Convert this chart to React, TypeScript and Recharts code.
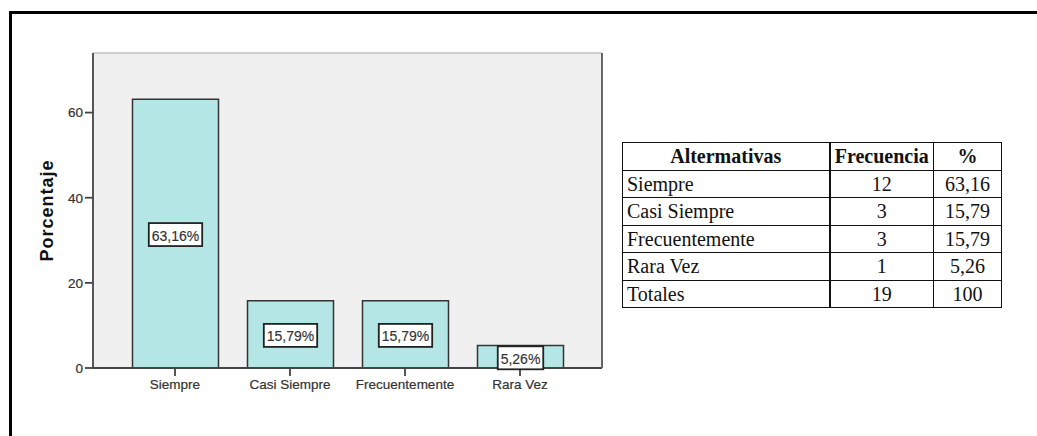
import React from 'react';
import { BarChart, Bar, XAxis, YAxis, CartesianGrid, LabelList, Label } from 'recharts';

const categories = ['Siempre', 'Casi Siempre', 'Frecuentemente', 'Rara Vez'];
const percentages = [63.16, 15.79, 15.79, 5.26];
const frequencies = [12, 3, 3, 1];
const yTicks = [0, 20, 40, 60];
const tableHeaders = ['Altermativas', 'Frecuencia', '%'];
const totalLabel = 'Totales';
const totalFrequency = 19;
const totalPercent = '100';

const data = categories.map((name, i) => ({ name, value: percentages[i] }));

const fmt = (v: number) => v.toFixed(2).replace('.', ',');

const FONT = '"Liberation Sans", Arial, sans-serif';
const SERIF = '"Liberation Serif", "Times New Roman", serif';

const renderBoxLabel = (props: any) => {
  const { x, y, width, height, value } = props;
  const text = fmt(Number(value)) + '%';
  const w = text.length * 7.9 + 6;
  const h = 23;
  const cx = Number(x) + Number(width) / 2;
  const cy = Number(y) + Number(height) / 2 + 1;
  return (
    <g>
      <rect x={cx - w / 2} y={cy - h / 2} width={w} height={h} fill="#ffffff" stroke="#222" strokeWidth={1.8} />
      <text x={cx} y={cy + 1} textAnchor="middle" dominantBaseline="central" fontSize={14} fontFamily={FONT} fill="#333" stroke="#333" strokeWidth={0.15}>
        {text}
      </text>
    </g>
  );
};

const cellBase: React.CSSProperties = {
  border: '1px solid #111',
  padding: 0,
  height: 26.5,
  lineHeight: '26px',
  fontFamily: SERIF,
  fontSize: 20,
  color: '#111',
  whiteSpace: 'nowrap',
};

const tickStyle = { fill: '#333', fontSize: 13.5, fontFamily: FONT, stroke: '#333', strokeWidth: 0.2 };

export default function App() {
  return (
    <div style={{ position: 'absolute', left: 0, top: 0, width: 1037, height: 436, overflow: 'hidden', background: '#fff' }}>
      <div
        style={{
          position: 'absolute',
          left: 9,
          top: 11,
          width: 1100,
          height: 500,
          borderLeft: '3px solid #000',
          borderTop: '3px solid #000',
        }}
      />
      <div style={{ position: 'absolute', left: 0, top: 0 }}>
        <BarChart width={620} height={436} data={data} margin={{ top: 52, right: 16, bottom: 38, left: 33 }} barSize={86}>
          <CartesianGrid fill="#f0f0f0" horizontal={false} vertical={false} stroke="none" />
          <XAxis
            dataKey="name"
            interval={0}
            height={30}
            tickSize={8}
            tickMargin={3}
            padding={{ left: 24.5, right: 24.5 }}
            axisLine={{ stroke: '#444', strokeWidth: 1.8 }}
            tickLine={{ stroke: '#444', strokeWidth: 1.8 }}
            tick={tickStyle}
          />
          <XAxis
            xAxisId="top"
            dataKey="name"
            orientation="top"
            height={1}
            tick={false}
            tickLine={false}
            axisLine={{ stroke: '#aaa', strokeWidth: 1.2 }}
          />
          <YAxis
            domain={[0, 74]}
            ticks={yTicks}
            width={60}
            tickSize={8}
            tickMargin={2}
            allowDataOverflow
            axisLine={{ stroke: '#444', strokeWidth: 1.8 }}
            tickLine={{ stroke: '#444', strokeWidth: 1.8 }}
            tick={tickStyle}
          >
            <Label
              value="Porcentaje"
              angle={-90}
              position="insideLeft"
              offset={14}
              style={{ textAnchor: 'middle', fontWeight: 'bold', fontSize: 18, letterSpacing: 1, fill: '#111', fontFamily: FONT }}
            />
          </YAxis>
          <YAxis
            yAxisId="right"
            orientation="right"
            width={2}
            domain={[0, 74]}
            tick={false}
            tickLine={false}
            axisLine={{ stroke: '#666', strokeWidth: 2 }}
          />
          <Bar dataKey="value" fill="#b4e6e6" stroke="#333" strokeWidth={1.5} isAnimationActive={false}>
            <LabelList dataKey="value" content={renderBoxLabel} />
          </Bar>
        </BarChart>
      </div>
      <table
        style={{
          position: 'absolute',
          left: 622,
          top: 142,
          borderCollapse: 'collapse',
          tableLayout: 'fixed',
          width: 379,
        }}
      >
        <colgroup>
          <col style={{ width: 207 }} />
          <col style={{ width: 104 }} />
          <col style={{ width: 68 }} />
        </colgroup>
        <tbody>
          <tr>
            {tableHeaders.map((h, i) => (
              <td
                key={h}
                style={{
                  ...cellBase,
                  fontWeight: 'bold',
                  textAlign: 'center',
                  borderRight: i === 0 ? '2px solid #111' : cellBase.border,
                }}
              >
                {h}
              </td>
            ))}
          </tr>
          {categories.map((c, i) => (
            <tr key={c}>
              <td style={{ ...cellBase, paddingLeft: 4, textAlign: 'left', borderRight: '2px solid #111' }}>{c}</td>
              <td style={{ ...cellBase, textAlign: 'center' }}>{frequencies[i]}</td>
              <td style={{ ...cellBase, textAlign: 'center' }}>{fmt(percentages[i])}</td>
            </tr>
          ))}
          <tr>
            <td style={{ ...cellBase, paddingLeft: 4, textAlign: 'left', borderRight: '2px solid #111' }}>{totalLabel}</td>
            <td style={{ ...cellBase, textAlign: 'center' }}>{totalFrequency}</td>
            <td style={{ ...cellBase, textAlign: 'center' }}>{totalPercent}</td>
          </tr>
        </tbody>
      </table>
    </div>
  );
}
